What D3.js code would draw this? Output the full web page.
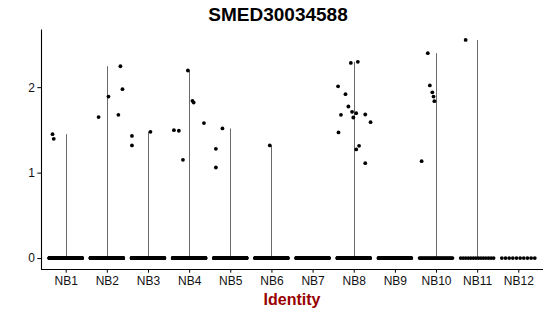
<!DOCTYPE html>
<html>
<head>
<meta charset="utf-8">
<script src="https://cdn.jsdelivr.net/npm/d3@7"></script>
<style>
  html, body { margin: 0; padding: 0; background: #fff; }
  svg { display: block; font-family: "Liberation Sans", Arial, Helvetica, sans-serif; }
</style>
</head>
<body>
<svg id="chart" width="550" height="316"></svg>
<script>
// ---- data ----
const title = "SMED30034588";
const xTitle = "Identity";
const categories = ["NB1","NB2","NB3","NB4","NB5","NB6","NB7","NB8","NB9","NB10","NB11","NB12"];
const yTicks = [0, 1, 2];
// number of cells with zero expression per identity
const zeroCounts = [320, 320, 300, 320, 300, 220, 200, 200, 140, 30, 14, 10];
// non-zero expressing cells
const exprIdentity = [
  "NB1","NB1",
  "NB2","NB2","NB2","NB2","NB2",
  "NB3","NB3","NB3",
  "NB4","NB4","NB4","NB4","NB4","NB4","NB4",
  "NB5","NB5","NB5",
  "NB6",
  "NB8","NB8","NB8","NB8","NB8","NB8","NB8","NB8","NB8","NB8","NB8","NB8","NB8","NB8","NB8",
  "NB10","NB10","NB10","NB10","NB10","NB10",
  "NB11"
];
const exprValues = [
  1.45, 1.395,
  1.65, 1.89, 2.245, 1.976, 1.676,
  1.43, 1.318, 1.477,
  1.497, 1.49, 1.15, 2.195, 1.84, 1.82, 1.58,
  1.279, 1.06, 1.517,
  1.318,
  2.284, 2.296, 2.01, 1.918, 1.774, 1.711, 1.696, 1.645, 1.676, 1.68, 1.59, 1.47, 1.314, 1.271, 1.111,
  2.398, 2.02, 1.94, 1.89, 1.836, 1.134,
  2.553
];
// horizontal jitter of each expressing cell, in category units
const exprJitter = [
  -0.32, -0.29,
  -0.20, 0.04, 0.33, 0.38, 0.28,
  -0.39, -0.39, 0.06,
  -0.37, -0.25, -0.15, -0.03, 0.08, 0.11, 0.36,
  -0.35, -0.35, -0.19,
  -0.04,
  -0.07, 0.10, -0.38, -0.20, -0.13, -0.04, 0.06, -0.01, -0.31, 0.28, 0.41, -0.37, 0.13, 0.06, 0.28,
  -0.20, -0.15, -0.09, -0.06, -0.04, -0.35,
  -0.28
];

// ---- build point table ----
const points = [];
categories.forEach((c, ci) => {
  const n = zeroCounts[ci];
  for (let i = 0; i < n; i++) {
    points.push({ id: c, value: 0, jitter: n > 1 ? -0.4 + 0.8 * i / (n - 1) : 0 });
  }
});
exprValues.forEach((v, i) => points.push({ id: exprIdentity[i], value: v, jitter: exprJitter[i] }));

const maxByCat = categories.map(c => d3.max(points.filter(p => p.id === c), p => p.value));

// ---- layout ----
const svg = d3.select("#chart");
const mLeft = 41, mRight = 543, mTop = 29, mBottom = 269;

const x = d3.scalePoint().domain(categories).range([mLeft, mRight]).padding(0.6);
const step = x.step();
const yMax = d3.max(exprValues);
const pad = yMax * 0.05;
const y = d3.scaleLinear().domain([-pad, yMax + pad]).range([mBottom, mTop]);

// violins (collapsed to lines since nearly all cells are zero)
svg.append("g").selectAll("line")
  .data(categories.filter((c, i) => maxByCat[i] > 0))
  .join("line")
  .attr("x1", c => Math.round(x(c)) + 0.5)
  .attr("x2", c => Math.round(x(c)) + 0.5)
  .attr("y1", y(0))
  .attr("y2", c => y(maxByCat[categories.indexOf(c)]))
  .attr("stroke", "#6a6a6a")
  .attr("stroke-width", 1);

// points
svg.append("g").selectAll("circle")
  .data(points)
  .join("circle")
  .attr("cx", d => x(d.id) + d.jitter * step)
  .attr("cy", d => y(d.value))
  .attr("r", 1.9)
  .attr("fill", "#000");

// y axis
const yAxis = svg.append("g").attr("transform", `translate(${mLeft},0)`)
  .call(d3.axisLeft(y).tickValues(yTicks).tickSize(3.7).tickSizeOuter(0).tickFormat(d3.format("d")));
yAxis.select(".domain").attr("stroke", "#000").attr("stroke-width", 1.1);
yAxis.selectAll(".tick line").attr("stroke", "#000");
yAxis.selectAll(".tick text").attr("font-size", 12).attr("fill", "#111")
  .attr("font-family", "'Liberation Sans', Arial, sans-serif").attr("x", -6);

// x axis
const xAxis = svg.append("g").attr("transform", `translate(0,${mBottom})`)
  .call(d3.axisBottom(x).tickSize(3.7).tickSizeOuter(0));
xAxis.select(".domain").attr("d", `M${mLeft},0.5H${mRight}`).attr("stroke", "#000").attr("stroke-width", 1.1);
xAxis.selectAll(".tick line").attr("stroke", "#000");
xAxis.selectAll(".tick text").attr("font-size", 12).attr("fill", "#111")
  .attr("font-family", "'Liberation Sans', Arial, sans-serif").attr("y", 7);

// title
svg.append("text")
  .attr("x", 278).attr("y", 21)
  .attr("text-anchor", "middle")
  .attr("font-size", 19).attr("font-weight", "bold").attr("fill", "#000")
  .text(title);

// x axis title
svg.append("text")
  .attr("x", (mLeft + mRight) / 2).attr("y", 305)
  .attr("text-anchor", "middle")
  .attr("font-size", 16).attr("font-weight", "bold").attr("fill", "#990000")
  .text(xTitle);
</script>
</body>
</html>
